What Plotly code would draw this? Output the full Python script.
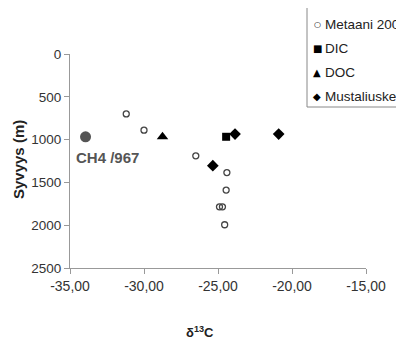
import plotly.graph_objects as go

metaani_x = [-31.2, -30.0, -26.5, -24.4, -24.45, -24.9, -24.7, -24.55]
metaani_y = [700, 890, 1190, 1385, 1590, 1785, 1785, 1995]
dic_x = [-24.45]
dic_y = [967]
doc_x = [-28.75]
doc_y = [967]
must_x = [-23.85, -20.9, -25.35]
must_y = [935, 935, 1305]
ch4_x = [-33.95]
ch4_y = [967]
ch4_label = "<b>CH4 /967</b>"

series_names = ["Metaani 2008", "DIC", "DOC", "Mustaliuske"]
legend_glyphs = ["○", "■", "▲", "◆"]
x_title = "<b>δ<sup>13</sup>C</b>"
y_title = "<b>Syvyys (m)</b>"

x_ticks = [-35, -30, -25, -20, -15]
x_ticktext = ["-35,00", "-30,00", "-25,00", "-20,00", "-15,00"]
y_ticks = [0, 500, 1000, 1500, 2000, 2500]

FONT = "Liberation Sans"
OFF = 8  # page body margin
W, H = 404, 340
L, T = 70 - OFF, 54 - OFF
R, B = W - (366 - OFF), H - (268 - OFF)
PW, PH = W - L - R, H - T - B


def px(xs):
    return (xs - OFF - L) / PW


def py(ys):
    return (H - B - (ys - OFF)) / PH


fig = go.Figure()
fig.add_trace(go.Scatter(x=ch4_x, y=ch4_y, mode="markers", showlegend=False,
                         marker=dict(symbol="circle", size=11, color="#555555")))
fig.add_trace(go.Scatter(x=metaani_x, y=metaani_y, mode="markers", name=series_names[0],
                         showlegend=False,
                         marker=dict(symbol="circle-open", size=6, color="#444444",
                                     line=dict(width=1.3, color="#444444"))))
fig.add_trace(go.Scatter(x=dic_x, y=dic_y, mode="markers", name=series_names[1],
                         showlegend=False,
                         marker=dict(symbol="square", size=8, color="black")))
fig.add_trace(go.Scatter(x=doc_x, y=doc_y, mode="markers", name=series_names[2],
                         showlegend=False,
                         marker=dict(symbol="triangle-up", size=10, color="black")))
fig.add_trace(go.Scatter(x=must_x, y=must_y, mode="markers", name=series_names[3],
                         showlegend=False,
                         marker=dict(symbol="diamond", size=9, color="black")))

fig.add_annotation(x=ch4_x[0], y=ch4_y[0], text=ch4_label, showarrow=False,
                   xanchor="left", yanchor="middle", xshift=-12, yshift=-21,
                   font=dict(size=15, color="#555555", family=FONT))

# axis titles
fig.add_annotation(xref="paper", yref="paper", x=px(200), y=py(332), text=x_title,
                   showarrow=False, xanchor="center", yanchor="middle",
                   font=dict(size=13, color="#222222", family=FONT))
fig.add_annotation(xref="paper", yref="paper", x=px(18), y=py(160), text=y_title,
                   showarrow=False, xanchor="center", yanchor="middle", textangle=-90,
                   font=dict(size=15, color="#222222", family=FONT))

# legend box
fig.add_shape(type="rect", xref="paper", yref="paper",
              x0=px(307), x1=px(430), y0=py(107), y1=py(7),
              line=dict(color="#888888", width=1), fillcolor="white", layer="above")
glyph_sizes = [8, 10, 10, 10]
glyph_x = [317, 317, 317, 317]
for i, (name, g) in enumerate(zip(series_names, legend_glyphs)):
    yc = 24 + 24 * i
    fig.add_annotation(xref="paper", yref="paper", x=px(glyph_x[i]), y=py(yc),
                       text=g, showarrow=False, xanchor="center", yanchor="middle",
                       font=dict(size=glyph_sizes[i], color="black", family="DejaVu Sans"))
    fig.add_annotation(xref="paper", yref="paper", x=px(323), y=py(yc),
                       text=name, showarrow=False, xanchor="left", yanchor="middle",
                       font=dict(size=13.5, color="#222222", family=FONT))

fig.update_layout(
    width=W, height=H,
    margin=dict(l=L, r=R, t=T, b=B, autoexpand=False),
    paper_bgcolor="white", plot_bgcolor="white",
    font=dict(family=FONT, size=14, color="#333333"),
    showlegend=False,
    xaxis=dict(range=[-35, -15], tickvals=x_ticks, ticktext=x_ticktext,
               showgrid=False, zeroline=False, showline=True, linecolor="#999999",
               linewidth=1, ticks="outside", ticklen=5, tickcolor="#999999",
               automargin=False),
    yaxis=dict(range=[2500, 0], tickvals=y_ticks, showgrid=False, zeroline=False,
               showline=True, linecolor="#999999", linewidth=1, ticks="outside",
               ticklen=5, tickcolor="#999999", automargin=False,
               tickfont=dict(size=13.5)),
)

fig.write_html("out.html")
